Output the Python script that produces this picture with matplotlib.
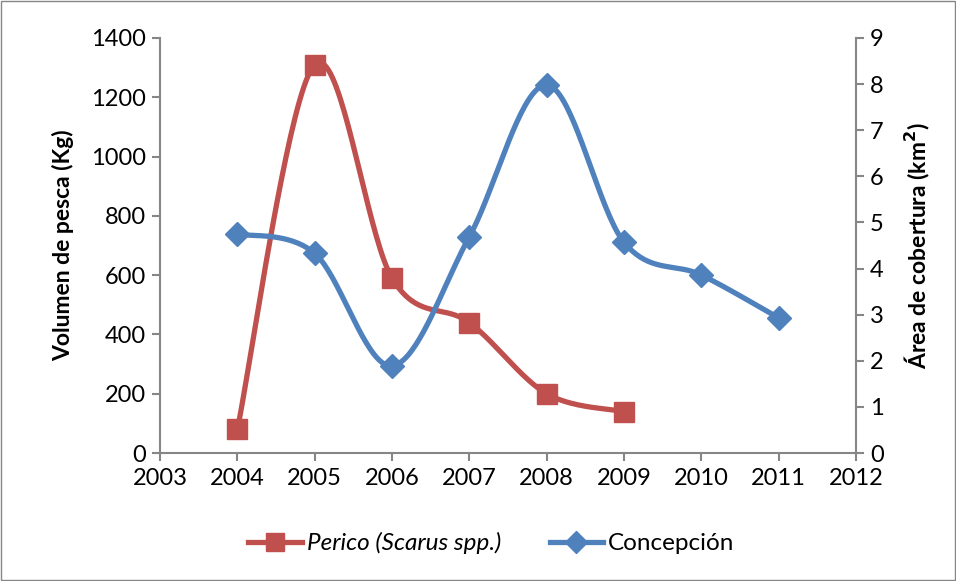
import numpy as np
import matplotlib
matplotlib.use("Agg")
import matplotlib.pyplot as plt
from matplotlib.lines import Line2D
from matplotlib.patches import Rectangle

plt.rcParams['font.family'] = ['Lato', 'DejaVu Sans']

years_perico = [2004, 2005, 2006, 2007, 2008, 2009]
perico = [80, 1310, 590, 440, 200, 140]
years_conc = [2004, 2005, 2006, 2007, 2008, 2009, 2010, 2011]
concepcion = [4.75, 4.33, 1.89, 4.69, 7.98, 4.57, 3.86, 2.93]

red = '#C0504D'
blue = '#4F81BD'
grey = '#868686'


def smooth(x, y, n=40):
    x = np.asarray(x, float); y = np.asarray(y, float)
    px = np.concatenate([[x[0]], x, [x[-1]]])
    py = np.concatenate([[y[0]], y, [y[-1]]])
    xs, ys = [], []
    t = np.linspace(0, 1, n)
    for i in range(1, len(px) - 2):
        p0 = np.array([px[i], py[i]]); p3 = np.array([px[i + 1], py[i + 1]])
        p1 = p0 + (np.array([px[i + 1], py[i + 1]]) - np.array([px[i - 1], py[i - 1]])) / 6
        p2 = p3 - (np.array([px[i + 2], py[i + 2]]) - np.array([px[i], py[i]])) / 6
        b = ((1 - t) ** 3)[:, None] * p0 + (3 * (1 - t) ** 2 * t)[:, None] * p1 + \
            (3 * (1 - t) * t ** 2)[:, None] * p2 + (t ** 3)[:, None] * p3
        xs.extend(b[:, 0]); ys.extend(b[:, 1])
    return xs, ys


fig = plt.figure(figsize=(9.56, 5.81), dpi=100)
fig.patches.append(Rectangle((0.001, 0.001), 0.998, 0.997, transform=fig.transFigure,
                             fill=False, edgecolor=grey, linewidth=1))
ax = fig.add_axes([0.1674, 0.2203, 0.728, 0.7143])
ax2 = ax.twinx()

sx, sy = smooth(years_perico, perico)
ax.plot(sx, sy, color=red, lw=3.8, solid_capstyle='round', zorder=3)
ax.plot(years_perico, perico, 's', color=red, ms=15, zorder=4)

cx, cy = smooth(years_conc, concepcion)
ax2.plot(cx, cy, color=blue, lw=3.8, solid_capstyle='round', zorder=3)
ax2.plot(years_conc, concepcion, 'D', color=blue, ms=12, zorder=4)

ax.set_xlim(2003, 2012)
ax.set_ylim(0, 1400)
ax2.set_ylim(0, 9)
ax.set_xticks(range(2003, 2013))
ax.set_yticks(range(0, 1401, 200))
ax2.set_yticks(range(0, 10))

for a in (ax, ax2):
    a.spines['top'].set_visible(False)
    for s in ('left', 'right', 'bottom'):
        a.spines[s].set_color(grey)
        a.spines[s].set_linewidth(1.5)
    a.tick_params(colors=grey, labelcolor='black', labelsize=17, length=6, width=1.5, direction='out')
ax2.spines['left'].set_visible(False)
ax.spines['right'].set_visible(False)
ax2.spines['bottom'].set_visible(False)
ax.tick_params(axis='x', pad=5)
ax.tick_params(axis='y', pad=4)
ax2.tick_params(axis='y', pad=4)

ax.set_ylabel('Volumen de pesca (Kg)', fontsize=16.5, fontweight='bold', labelpad=12)
ax2.set_ylabel('Área de cobertura (km$^{\\mathbf{2}}$)', fontsize=16.5, fontweight='bold', labelpad=14)

handles = [Line2D([], [], color=red, lw=3.8, marker='s', ms=13),
           Line2D([], [], color=blue, lw=3.8, marker='D', ms=11)]
leg = fig.legend(handles, ['Perico (Scarus spp.)', 'Concepción'], loc='center',
                 bbox_to_anchor=(0.514, 0.065), ncol=2, frameon=False, fontsize=17.5,
                 handlelength=2.2, columnspacing=2.0, handletextpad=0.2)
leg.get_texts()[0].set_fontstyle('italic')

fig.savefig('out.png', dpi=100)
